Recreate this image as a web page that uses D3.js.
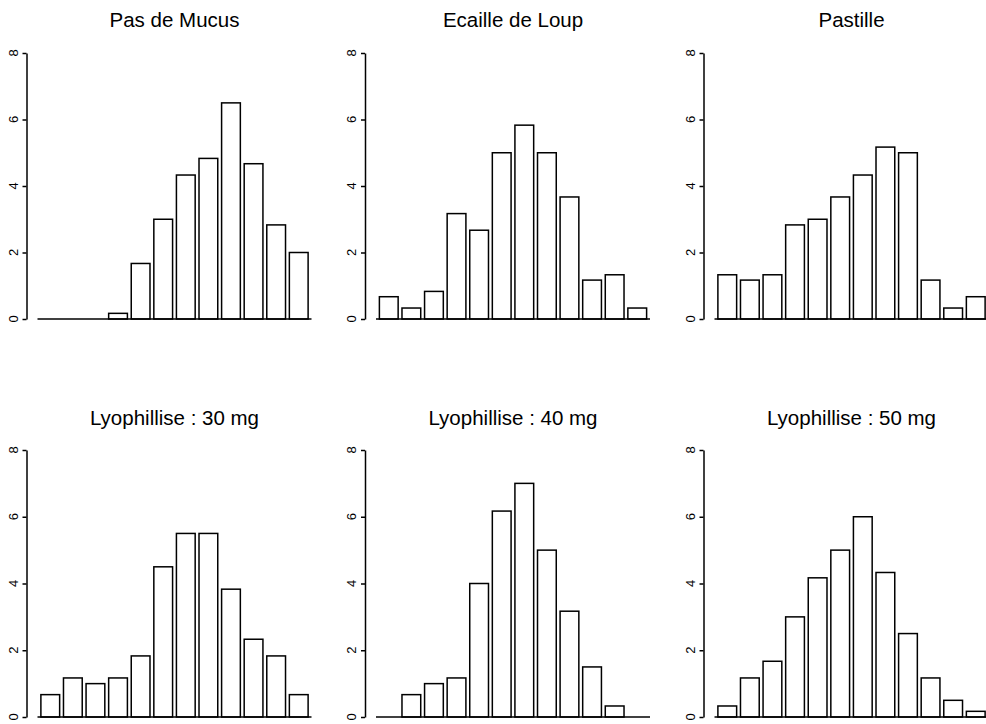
<!DOCTYPE html>
<html lang="en">
<head>
<meta charset="utf-8">
<style>
    body { margin: 0; background: #fff; }
    .axis path, .axis line { fill: none; stroke: #000; stroke-width: 1.5px; }
    .tick-label { font-family: "Liberation Sans", Arial, sans-serif; font-size: 13px; fill: #000; }
    .title { font-family: "Liberation Sans", Arial, sans-serif; font-size: 20.5px; fill: #000; }
</style>
<script src="https://cdn.jsdelivr.net/npm/d3@7"></script>
</head>
<body>
<script>
    // bins (12 classes per panel)
    let bins = ["1", "2", "3", "4", "5", "6", "7", "8", "9", "10", "11", "12"];
    let titles = ["Pas de Mucus", "Ecaille de Loup", "Pastille",
                  "Lyophillise : 30 mg", "Lyophillise : 40 mg", "Lyophillise : 50 mg"];
    let yTicks = [0, 2, 4, 6, 8];

    let pasDeMucus    = [0, 0, 0, 0.17, 1.67, 3, 4.33, 4.83, 6.5, 4.67, 2.83, 2];
    let ecailleDeLoup = [0.67, 0.33, 0.83, 3.17, 2.67, 5, 5.83, 5, 3.67, 1.17, 1.33, 0.33];
    let pastille      = [1.33, 1.17, 1.33, 2.83, 3, 3.67, 4.33, 5.17, 5, 1.17, 0.33, 0.67];
    let lyo30         = [0.67, 1.17, 1, 1.17, 1.83, 4.5, 5.5, 5.5, 3.83, 2.33, 1.83, 0.67];
    let lyo40         = [0, 0.67, 1, 1.17, 4, 6.17, 7, 5, 3.17, 1.5, 0.33, 0];
    let lyo50         = [0.33, 1.17, 1.67, 3, 4.17, 5, 6, 4.33, 2.5, 1.17, 0.5, 0.17];

    let series = [pasDeMucus, ecailleDeLoup, pastille, lyo30, lyo40, lyo50];

    let w = 986, h = 724;
    let colStep = 338.5;
    let rows = [{ y0: 319, y8: 53, titleY: 27 }, { y0: 717, y8: 450, titleY: 425 }];

    let svg = d3.select("body").append("svg")
        .attr("width", w)
        .attr("height", h);

    series.forEach((vals, k) => {
        let col = k % 3, row = rows[Math.floor(k / 3)];
        let dx = col * colStep;
        let axisX = 26.5 + dx;

        let xScale = d3.scaleBand()
            .domain(bins)
            .range([37.5 + dx, 311.5 + dx])
            .paddingInner(0.17)
            .paddingOuter(0.15);

        let yScale = d3.scaleLinear()
            .domain([0, 8])
            .range([row.y0, row.y8]);

        let g = svg.append("g");

        // bars
        g.selectAll("rect")
            .data(vals)
            .join("rect")
            .attr("x", (d, i) => xScale(bins[i]))
            .attr("y", d => yScale(d))
            .attr("width", xScale.bandwidth())
            .attr("height", d => yScale(0) - yScale(d))
            .attr("fill", "#fff")
            .attr("stroke", "#000")
            .attr("stroke-width", 1.5);

        // baseline
        g.append("line")
            .attr("x1", xScale.range()[0])
            .attr("x2", xScale.range()[1])
            .attr("y1", yScale(0))
            .attr("y2", yScale(0))
            .attr("stroke", "#000")
            .attr("stroke-width", 1.5);

        // y axis line + ticks (labels drawn separately, rotated like R)
        let ax = g.append("g")
            .attr("class", "axis")
            .attr("transform", `translate(${axisX},0)`)
            .call(d3.axisLeft(yScale).tickValues(yTicks).tickSize(4).tickSizeOuter(0).tickFormat(""));

        g.selectAll("text.tick-label")
            .data(yTicks)
            .join("text")
            .attr("class", "tick-label")
            .attr("text-anchor", "middle")
            .attr("transform", d => `translate(${axisX - 9},${yScale(d)}) rotate(-90)`)
            .text(d => d);

        // title
        g.append("text")
            .attr("class", "title")
            .attr("x", (xScale.range()[0] + xScale.range()[1]) / 2)
            .attr("y", row.titleY)
            .attr("text-anchor", "middle")
            .text(titles[k]);
    });
</script>
</body>
</html>
